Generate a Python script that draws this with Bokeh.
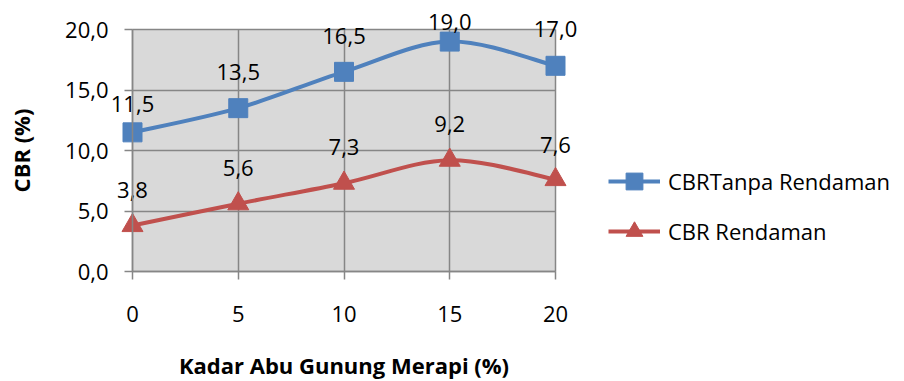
from bokeh.plotting import figure
from bokeh.models import Range1d, FixedTicker, Legend, LegendItem
from bokeh.core.properties import value
from bokeh.embed import file_html
from bokeh.resources import INLINE

# ---- data ----
kadar = [0, 5, 10, 15, 20]
cbr_tanpa = [11.5, 13.5, 16.5, 19.0, 17.0]
cbr_rendaman = [3.8, 5.6, 7.3, 9.2, 7.6]
tanpa_labels = ["11,5", "13,5", "16,5", "19,0", "17,0"]
rendaman_labels = ["3,8", "5,6", "7,3", "9,2", "7,6"]
x_ticks = [0, 5, 10, 15, 20]
y_ticks = [0, 5, 10, 15, 20]
y_tick_labels = ["0,0", "5,0", "10,0", "15,0", "20,0"]
series_names = ["CBRTanpa Rendaman", "CBR Rendaman"]

# ---- style / layout ----
FONT = "Open Sans"
BLUE = "#4f81bd"
RED = "#c0504d"
GRID = "#868686"
W, H = 904, 381
PLOT_L, PLOT_R, PLOT_T, PLOT_B = 132, 555, 29, 271   # plot-area box in pixels
tanpa_dy = [-28, -36, -36, -20, -37]
rendaman_dy = [-36, -36, -36, -36, -35]

x0d, x1d = x_ticks[0], x_ticks[-1]
y0d, y1d = y_ticks[0], y_ticks[-1]
sx = (PLOT_R - PLOT_L) / (x1d - x0d)
sy = (PLOT_B - PLOT_T) / (y1d - y0d)
x_range = Range1d(x0d - PLOT_L / sx, x1d + (W - PLOT_R) / sx)
y_range = Range1d(y0d - (H - PLOT_B) / sy, y1d + PLOT_T / sy)


def smooth_controls(xs, ys):
    """Catmull-Rom style Bezier control points (Excel smoothed line)."""
    n = len(xs)
    d = dict(x0=[], y0=[], x1=[], y1=[], cx0=[], cy0=[], cx1=[], cy1=[])
    for i in range(n - 1):
        ip = max(i - 1, 0)
        inn = min(i + 2, n - 1)
        d["x0"].append(xs[i]); d["y0"].append(ys[i])
        d["x1"].append(xs[i + 1]); d["y1"].append(ys[i + 1])
        d["cx0"].append(xs[i] + (xs[i + 1] - xs[ip]) / 6.0)
        d["cy0"].append(ys[i] + (ys[i + 1] - ys[ip]) / 6.0)
        d["cx1"].append(xs[i + 1] - (xs[inn] - xs[i]) / 6.0)
        d["cy1"].append(ys[i + 1] - (ys[inn] - ys[i]) / 6.0)
    return d


p = figure(width=W, height=H, x_range=x_range, y_range=y_range,
           output_backend="svg", toolbar_location=None, min_border=0)
p.background_fill_color = "white"
p.border_fill_color = "white"
p.outline_line_color = None

# plot-area background
p.quad(left=[x0d], right=[x1d], bottom=[y0d], top=[y1d], fill_color="#d9d9d9",
       line_color=None, level="image")

# grid lines limited to the plot area
try:
    p.xgrid.cross_bounds = (y0d, y1d)
    p.ygrid.cross_bounds = (x0d, x1d)
    for g in (p.xgrid, p.ygrid):
        g.grid_line_color = GRID
        g.grid_line_width = 1.5
    p.xgrid.ticker = FixedTicker(ticks=x_ticks)
    p.ygrid.ticker = FixedTicker(ticks=y_ticks)
except AttributeError:
    p.xgrid.visible = False
    p.ygrid.visible = False
    p.segment(x0=x_ticks, x1=x_ticks, y0=[y0d] * len(x_ticks), y1=[y1d] * len(x_ticks),
              line_color=GRID, line_width=1.5, level="underlay")
    p.segment(x0=[x0d] * len(y_ticks), x1=[x1d] * len(y_ticks), y0=y_ticks, y1=y_ticks,
              line_color=GRID, line_width=1.5, level="underlay")

for ax in (p.xaxis, p.yaxis):
    ax.axis_line_color = GRID
    ax.axis_line_width = 1.5
    ax.major_tick_line_color = GRID
    ax.major_tick_line_width = 1.5
    ax.major_tick_out = 8
    ax.major_tick_in = 0
    ax.minor_tick_line_color = None
    ax.major_label_text_font = FONT
    ax.major_label_text_font_size = "22px"
    ax.major_label_text_color = "black"
    ax.axis_label_text_font = FONT
    ax.axis_label_text_font_size = "22px"
    ax.axis_label_text_font_style = "bold"
    ax.axis_label_text_color = "black"

p.xaxis.ticker = FixedTicker(ticks=x_ticks)
p.yaxis.ticker = FixedTicker(ticks=y_ticks)
p.xaxis.bounds = (x0d, x1d)
p.yaxis.bounds = (y0d, y1d)
p.xaxis.fixed_location = y0d
p.yaxis.fixed_location = x0d
p.yaxis.major_label_overrides = {t: lab for t, lab in zip(y_ticks, y_tick_labels)}
p.xaxis.axis_label = "Kadar Abu Gunung Merapi (%)"
p.yaxis.axis_label = "CBR (%)"
p.xaxis.major_label_standoff = 26
p.yaxis.major_label_standoff = 16
p.xaxis.axis_label_standoff = 25
p.yaxis.axis_label_standoff = 26

b1 = p.bezier(source=smooth_controls(kadar, cbr_tanpa), x0="x0", y0="y0", x1="x1", y1="y1",
              cx0="cx0", cy0="cy0", cx1="cx1", cy1="cy1", line_color=BLUE, line_width=4)
b2 = p.bezier(source=smooth_controls(kadar, cbr_rendaman), x0="x0", y0="y0", x1="x1", y1="y1",
              cx0="cx0", cy0="cy0", cx1="cx1", cy1="cy1", line_color=RED, line_width=4)
m1 = p.scatter(kadar, cbr_tanpa, marker="square", size=19, fill_color=BLUE, line_color=BLUE)
m2 = p.scatter(kadar, cbr_rendaman, marker="triangle", size=21, fill_color=RED, line_color=RED)

p.text(x=kadar, y=cbr_tanpa, text=tanpa_labels, y_offset=tanpa_dy, text_align="center",
       text_baseline="alphabetic", text_font=value(FONT), text_font_size="22px", text_color="black")
p.text(x=kadar, y=cbr_rendaman, text=rendaman_labels, y_offset=rendaman_dy, text_align="center",
       text_baseline="alphabetic", text_font=value(FONT), text_font_size="22px", text_color="black")

legend = Legend(items=[LegendItem(label=series_names[0], renderers=[b1, m1]),
                       LegendItem(label=series_names[1], renderers=[b2, m2])],
                location=(608, H - 252))
legend.border_line_color = None
legend.background_fill_alpha = 0
legend.padding = 0
legend.margin = 0
legend.spacing = 8
legend.glyph_width = 52
legend.glyph_height = 42
legend.label_height = 20
legend.label_standoff = 8
legend.label_text_font = FONT
legend.label_text_font_size = "22px"
legend.label_text_color = "black"
p.add_layout(legend)

open("out.html", "w").write(file_html(p, INLINE))
